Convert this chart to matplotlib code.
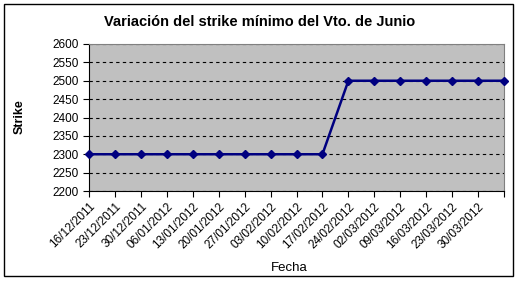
import matplotlib.pyplot as plt
from matplotlib.patches import Rectangle

plt.rcParams['font.family'] = ['Liberation Sans', 'DejaVu Sans']

fechas = ['16/12/2011', '23/12/2011', '30/12/2011', '06/01/2012', '13/01/2012',
          '20/01/2012', '27/01/2012', '03/02/2012', '10/02/2012', '17/02/2012',
          '24/02/2012', '02/03/2012', '09/03/2012', '16/03/2012', '23/03/2012',
          '30/03/2012', '06/04/2012']
strike = [2300, 2300, 2300, 2300, 2300, 2300, 2300, 2300, 2300, 2300,
          2500, 2500, 2500, 2500, 2500, 2500, 2500]

W, H = 527, 286
fig = plt.figure(figsize=(W / 100, H / 100), dpi=100)
fig.patch.set_facecolor('white')

# marco exterior
fig.patches.append(Rectangle((4 / W, 1 - 276 / H), 509 / W, 272 / H, transform=fig.transFigure,
                             fill=False, edgecolor='black', linewidth=1))

ax = fig.add_axes([89 / W, 1 - 191 / H, 415 / W, 147 / H])
ax.set_facecolor('#C0C0C0')

x = list(range(len(fechas)))
ax.plot(x, strike, color='#000080', linewidth=1.8, marker='D', markersize=4.5, zorder=3, clip_on=False)

ax.set_xlim(0, len(fechas) - 1)
ax.set_ylim(2200, 2600)
ax.set_yticks(range(2200, 2601, 50))
ax.set_xticks(x)
labels = fechas[:-1] + ['']
ax.set_xticklabels(labels, rotation=45, ha='right', va='top', rotation_mode='anchor', fontsize=8.5)
ax.tick_params(axis='y', labelsize=8.5, direction='out', length=4)
ax.tick_params(axis='x', direction='out', length=4, pad=3)
ax.grid(axis='y', color='black', linestyle=(0, (3, 3)), linewidth=0.8)
ax.set_axisbelow(True)

for s in ['top', 'right']:
    ax.spines[s].set_color('#808080')
for s in ['left', 'bottom']:
    ax.spines[s].set_color('black')

fig.text(260 / W, 1 - 22 / H, 'Variación del strike mínimo del Vto. de Junio', fontsize=10.5,
         fontweight='bold', ha='center', va='center')
fig.text(20 / W, 1 - 117 / H, 'Strike', fontsize=9, fontweight='bold', rotation=90,
         ha='center', va='center')
fig.text(289 / W, 1 - 268 / H, 'Fecha', fontsize=9.5, ha='center', va='center')

fig.savefig('out.png', dpi=100)
